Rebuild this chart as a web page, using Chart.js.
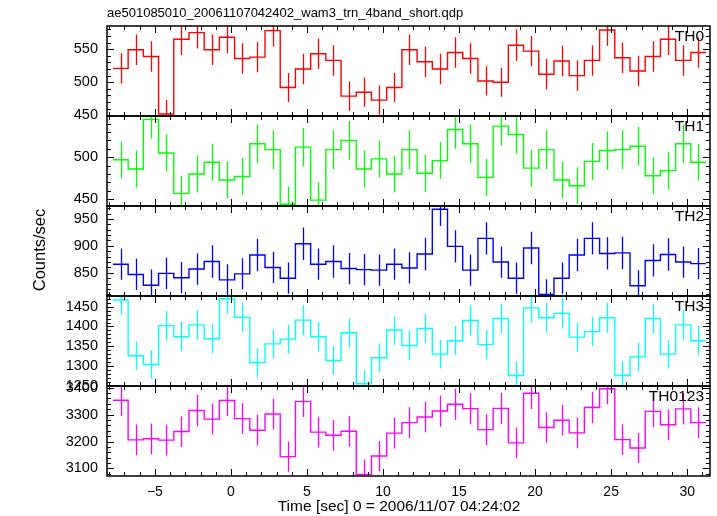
<!DOCTYPE html>
<html>
<head>
<meta charset="utf-8">
<script src="https://cdn.jsdelivr.net/npm/chart.js@4/dist/chart.umd.min.js"></script>
<style>
html,body{margin:0;padding:0;background:#fff;}
#wrap{position:relative;width:717px;height:516px;}
</style>
</head>
<body>
<div id="wrap"><canvas id="c" width="717" height="516"></canvas></div>
<script>
// ---------------- DATA ----------------
const chartTitle = 'ae501085010_20061107042402_wam3_trn_4band_short.qdp';
const xAxisTitle = 'Time [sec] 0 = 2006/11/07 04:24:02';
const yAxisTitle = 'Counts/sec';
const panelNames = ['TH0', 'TH1', 'TH2', 'TH3', 'TH0123'];

// bin centres (s) and half bin width (s)
const binCenters = [-7.26, -6.26, -5.26, -4.26, -3.26, -2.26, -1.26, -0.26,
  0.74, 1.74, 2.74, 3.74, 4.74, 5.74, 6.74, 7.74, 8.74, 9.74, 10.74, 11.74,
  12.74, 13.74, 14.74, 15.74, 16.74, 17.74, 18.74, 19.74, 20.74, 21.74, 22.74,
  23.74, 24.74, 25.74, 26.74, 27.74, 28.74, 29.74, 30.74];
const binHalfWidth = 0.5;

const th0Values = [521, 549, 539, 452, 565, 575, 549, 568, 536, 538, 578, 492, 520, 543, 533, 479, 485, 473, 492, 549,
  531, 520, 545, 536, 502, 500, 556, 547, 512, 532, 510, 533, 579, 537, 517, 539, 565, 533, 545];
const th0Errors = [23, 23, 23, 21, 24, 24, 23, 24, 23, 23, 24, 22, 23, 23, 23, 22, 22, 22, 22, 23,
  23, 23, 23, 23, 22, 22, 24, 23, 23, 23, 23, 23, 24, 23, 23, 23, 24, 23, 23];

const th1Values = [497, 486, 545, 505, 457, 480, 494, 473, 477, 516, 509, 444, 512, 449, 509, 520, 486, 498, 480, 509,
  481, 496, 533, 516, 476, 537, 527, 487, 509, 473, 466, 495, 508, 509, 513, 478, 484, 516, 494];
const th1Errors = [22, 22, 23, 22, 21, 22, 22, 22, 22, 23, 23, 21, 23, 21, 23, 23, 22, 22, 22, 23,
  22, 22, 23, 23, 22, 23, 23, 22, 23, 22, 22, 22, 23, 23, 23, 22, 22, 23, 22];

const th2Values = [866, 847, 827, 849, 841, 857, 871, 837, 848, 883, 860, 840, 904, 866, 871, 858, 856, 855, 866, 859,
  885, 968, 899, 855, 914, 870, 840, 896, 810, 840, 883, 914, 886, 887, 826, 873, 884, 870, 867];
const th2Errors = [29, 29, 29, 29, 29, 29, 30, 29, 29, 30, 29, 29, 30, 29, 30, 29, 29, 29, 29, 29,
  30, 31, 30, 29, 30, 29, 29, 30, 28, 29, 30, 30, 30, 30, 29, 30, 30, 29, 29];

const th3Values = [1467, 1326, 1304, 1402, 1374, 1404, 1369, 1470, 1423, 1309, 1356, 1368, 1416, 1374, 1314, 1384, 1255, 1321, 1391, 1352,
  1395, 1330, 1364, 1415, 1354, 1420, 1276, 1447, 1422, 1433, 1373, 1387, 1422, 1276, 1323, 1420, 1330, 1404, 1364];
const th3Errors = [38, 36, 36, 37, 37, 37, 37, 38, 38, 36, 37, 37, 38, 37, 36, 37, 35, 36, 37, 37,
  37, 36, 37, 38, 37, 38, 36, 38, 38, 38, 37, 37, 38, 36, 36, 38, 36, 37, 37];

const th0123Values = [3353, 3206, 3210, 3205, 3237, 3315, 3283, 3352, 3285, 3242, 3302, 3144, 3349, 3235, 3223, 3238, 3078, 3146, 3231, 3270,
  3291, 3313, 3338, 3322, 3244, 3323, 3195, 3379, 3252, 3279, 3232, 3326, 3396, 3207, 3176, 3312, 3262, 3321, 3270];
const th0123Errors = [58, 57, 57, 57, 57, 58, 57, 58, 57, 57, 57, 56, 58, 57, 57, 57, 55, 56, 57, 57,
  57, 58, 58, 58, 57, 58, 57, 58, 57, 57, 57, 58, 58, 57, 56, 58, 57, 58, 57];

// axis ranges and tick steps
const xRange = [-8.15, 31.5];
const xMajorStep = 5, xMinorStep = 1;
const yRanges = [[449, 585], [442, 549], [807, 974], [1249.5, 1477], [3072, 3406]];
const yMajorSteps = [50, 50, 50, 50, 100];
const yMinorSteps = [10, 10, 10, 10, 20];

// ---------------- STYLE / BUILD ----------------
const colors = ['#ff0000', '#00ff00', '#0000ff', '#00ffff', '#ff00ff'];
const FONT = "'Liberation Sans', Arial, Helvetica, sans-serif";
const valueSets = [th0Values, th1Values, th2Values, th3Values, th0123Values];
const errorSets = [th0Errors, th1Errors, th2Errors, th3Errors, th0123Errors];

const panels = panelNames.map((name, i) => ({
  name, id: 'y' + i, values: valueSets[i], errors: errorSets[i], color: colors[i],
  min: yRanges[i][0], max: yRanges[i][1], major: yMajorSteps[i], minor: yMinorSteps[i]
}));

function stepPoints(values) {
  const pts = binCenters.map((c, k) => ({x: c - binHalfWidth, y: values[k]}));
  const n = binCenters.length - 1;
  pts.push({x: binCenters[n] + binHalfWidth, y: values[n]});
  return pts;
}

const scales = {
  x: {
    type: 'linear', position: 'bottom', min: xRange[0], max: xRange[1],
    grid: {display: false, drawTicks: false}, border: {display: false},
    ticks: {
      stepSize: xMajorStep, includeBounds: false, padding: 8, color: '#000',
      font: {family: FONT, size: 14}, maxRotation: 0, autoSkip: false,
      callback: v => String(v).replace('-', '\u2212')
    },
    afterFit(s) { s.height = 40; }
  }
};
panels.forEach((p, i) => {
  scales[p.id] = {
    type: 'linear', position: 'left', stack: 'panels', stackWeight: 1, weight: 10 - i,
    min: p.min, max: p.max,
    grid: {display: false, drawTicks: false}, border: {display: false},
    ticks: {
      stepSize: p.major, includeBounds: false, padding: 9, color: '#000', autoSkip: false,
      font: {family: FONT, size: 14.5},
      callback: v => String(v)
    },
    afterFit(s) { s.width = 107; }
  };
});

const decor = {
  id: 'decor',
  beforeDatasetDraw(chart, args) {
    const p = panels[args.index];
    const ys = chart.scales[p.id];
    const ca = chart.chartArea;
    const ctx = chart.ctx;
    ctx.save();
    ctx.beginPath();
    ctx.rect(ca.left, ys.top, ca.right - ca.left, ys.bottom - ys.top);
    ctx.clip();
  },
  afterDatasetDraw(chart, args) {
    const p = panels[args.index];
    const ys = chart.scales[p.id];
    const xs = chart.scales.x;
    const ctx = chart.ctx;
    ctx.strokeStyle = p.color;
    ctx.lineWidth = 1.3;
    ctx.beginPath();
    binCenters.forEach((c, k) => {
      const x = Math.round(xs.getPixelForValue(c)) + 0.5;
      ctx.moveTo(x, ys.getPixelForValue(p.values[k] - p.errors[k]));
      ctx.lineTo(x, ys.getPixelForValue(p.values[k] + p.errors[k]));
    });
    ctx.stroke();
    ctx.restore();
  },
  afterDatasetsDraw(chart) {
    const ctx = chart.ctx;
    const ca = chart.chartArea;
    const xs = chart.scales.x;
    ctx.save();
    ctx.strokeStyle = '#000';
    panels.forEach(p => {
      const ys = chart.scales[p.id];
      ctx.lineWidth = 1;
      ctx.beginPath();
      // y ticks (left and right, inward)
      for (let n = Math.ceil(p.min / p.minor); n * p.minor <= p.max; n++) {
        const v = n * p.minor;
        const y = Math.round(ys.getPixelForValue(v)) + 0.5;
        const len = (v % p.major === 0) ? 7 : 4;
        ctx.moveTo(ca.left, y); ctx.lineTo(ca.left + len, y);
        ctx.moveTo(ca.right, y); ctx.lineTo(ca.right - len, y);
      }
      // x ticks (top and bottom of each panel, inward)
      for (let t = Math.ceil(xRange[0] / xMinorStep); t * xMinorStep <= xRange[1]; t++) {
        const v = t * xMinorStep;
        const x = Math.round(xs.getPixelForValue(v)) + 0.5;
        const len = (v % xMajorStep === 0) ? 7 : 4;
        ctx.moveTo(x, ys.top); ctx.lineTo(x, ys.top + len);
        ctx.moveTo(x, ys.bottom); ctx.lineTo(x, ys.bottom - len);
      }
      ctx.stroke();
      ctx.lineWidth = 1.5;
      ctx.strokeRect(ca.left, ys.top, ca.right - ca.left, ys.bottom - ys.top);
      // panel label
      ctx.fillStyle = '#000';
      ctx.font = '15.5px ' + FONT;
      ctx.textAlign = 'right';
      ctx.textBaseline = 'top';
      ctx.fillText(p.name, ca.right - 6, ys.top + 3);
    });
    ctx.restore();
  },
  afterDraw(chart) {
    const ctx = chart.ctx;
    ctx.save();
    ctx.fillStyle = '#000';
    ctx.font = '13px ' + FONT;
    ctx.textAlign = 'left';
    ctx.textBaseline = 'middle';
    ctx.fillText(chartTitle, 107, 13);
    ctx.font = '15.5px ' + FONT;
    ctx.textAlign = 'center';
    ctx.fillText(xAxisTitle, 399, 507);
    ctx.font = '16.5px ' + FONT;
    ctx.translate(40, 250);
    ctx.rotate(-Math.PI / 2);
    ctx.fillText(yAxisTitle, 0, 0);
    ctx.restore();
  }
};

new Chart(document.getElementById('c'), {
  type: 'line',
  data: {
    datasets: panels.map(p => ({
      label: p.name, data: stepPoints(p.values), yAxisID: p.id, xAxisID: 'x',
      borderColor: p.color, borderWidth: 1.4, pointRadius: 0, pointHoverRadius: 0,
      stepped: true, fill: false, tension: 0
    }))
  },
  options: {
    responsive: false, animation: false, devicePixelRatio: 1,
    layout: {padding: {top: 26, right: 7, left: 0, bottom: 0}},
    plugins: {legend: {display: false}, tooltip: {enabled: false}, title: {display: false}},
    events: [],
    scales
  },
  plugins: [decor]
});
</script>
</body>
</html>
